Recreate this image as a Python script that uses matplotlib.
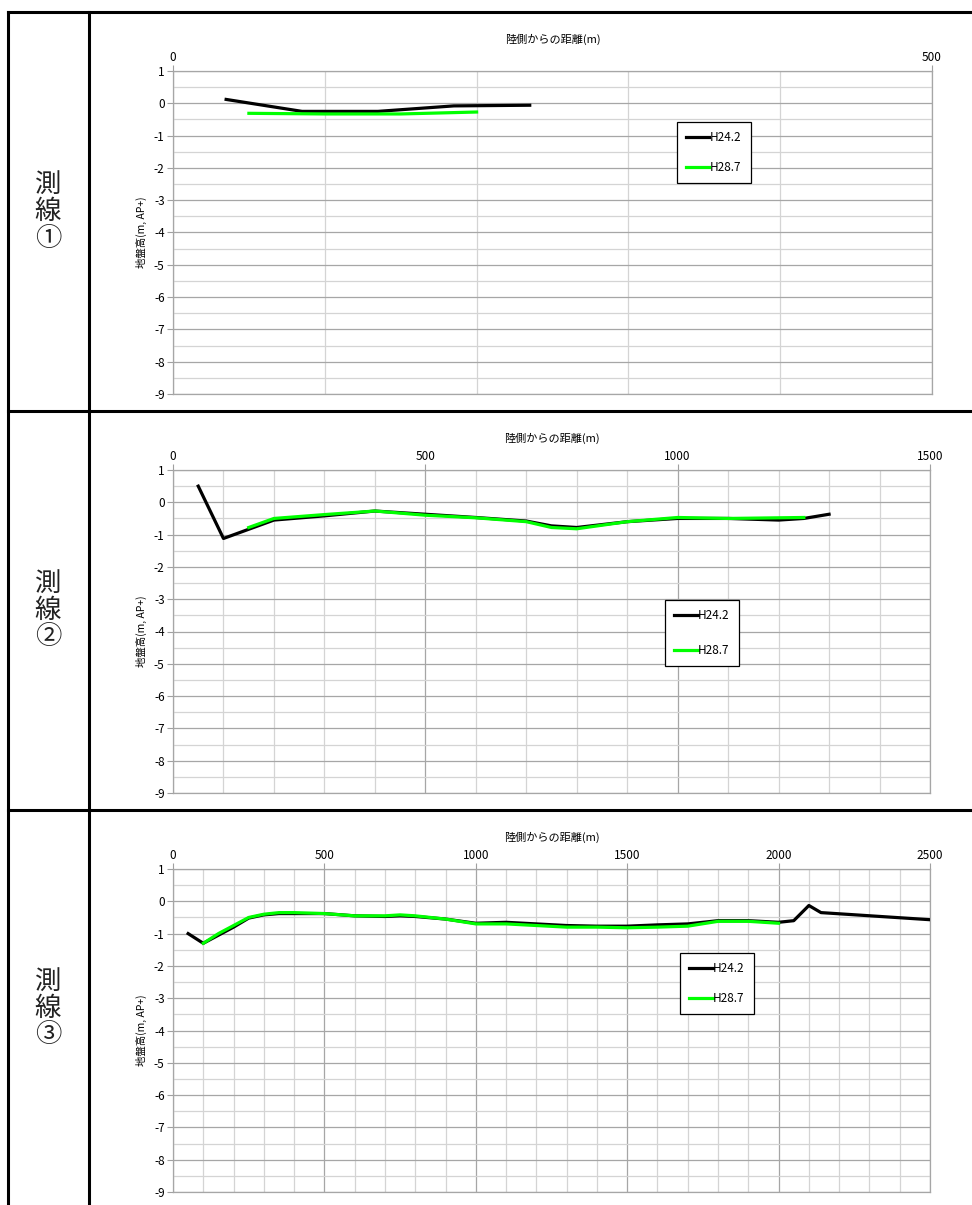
import matplotlib
matplotlib.use("Agg")
import matplotlib.pyplot as plt
from matplotlib.lines import Line2D
from matplotlib.ticker import MultipleLocator

plt.rcParams['font.family'] = ['Noto Sans CJK JP', 'DejaVu Sans']
plt.rcParams['axes.unicode_minus'] = False

W, H = 972, 1205

# 測線①
l1_h24_x = [35, 85, 135, 185, 235]
l1_h24_y = [0.12, -0.25, -0.25, -0.08, -0.06]
l1_h28_x = [50, 100, 150, 200]
l1_h28_y = [-0.31, -0.33, -0.33, -0.27]

# 測線②
l2_h24_x = [50, 100, 200, 300, 400, 500, 600, 700, 750, 800, 900, 1000, 1100, 1200, 1250, 1300]
l2_h24_y = [0.5, -1.12, -0.55, -0.42, -0.27, -0.37, -0.47, -0.58, -0.73, -0.78, -0.6, -0.5, -0.5, -0.55, -0.5, -0.37]
l2_h28_x = [150, 200, 300, 400, 500, 600, 700, 750, 800, 900, 1000, 1100, 1200, 1250]
l2_h28_y = [-0.78, -0.5, -0.38, -0.27, -0.4, -0.48, -0.6, -0.78, -0.82, -0.6, -0.47, -0.5, -0.48, -0.47]

# 測線③
l3_h24_x = [50, 100, 150, 200, 250, 300, 350, 400, 500, 600, 700, 750, 800, 900, 1000, 1100,
            1200, 1300, 1400, 1500, 1600, 1700, 1800, 1900, 2000, 2050, 2100, 2140, 2500]
l3_h24_y = [-1.0, -1.3, -1.05, -0.8, -0.52, -0.42, -0.38, -0.38, -0.38, -0.45, -0.47, -0.45, -0.47,
            -0.55, -0.68, -0.65, -0.7, -0.75, -0.77, -0.77, -0.73, -0.7, -0.6, -0.6, -0.65, -0.6,
            -0.13, -0.35, -0.57]
l3_h28_x = [100, 150, 200, 250, 300, 350, 400, 500, 600, 700, 750, 800, 900, 1000, 1100, 1200,
            1300, 1400, 1500, 1600, 1700, 1800, 1900, 2000]
l3_h28_y = [-1.3, -1.0, -0.75, -0.5, -0.4, -0.35, -0.35, -0.38, -0.45, -0.45, -0.42, -0.45, -0.55,
            -0.7, -0.7, -0.75, -0.8, -0.8, -0.82, -0.8, -0.77, -0.62, -0.62, -0.68]

xmax_list = [500, 1500, 2500]
row_labels = ["測\n線\n①", "測\n線\n②", "測\n線\n③"]
series_names = ["H24.2", "H28.7"]
xlabel = "陸側からの距離(m)"
ylabel = "地盤高(m, AP+)"


def px_axes(fig, l, r, t, b):
    return fig.add_axes([l / W, 1 - b / H, (r - l) / W, (b - t) / H])


fig = plt.figure(figsize=(W / 100, H / 100), dpi=100)

# 表の罫線
for yy in [12, 411, 810]:
    fig.add_artist(Line2D([8 / W, 1.0], [1 - yy / H, 1 - yy / H], color='black', lw=2.2))
for xx in [8, 89]:
    fig.add_artist(Line2D([xx / W, xx / W], [1 - 12 / H, 0.0], color='black', lw=2.2))

boxes = [(173, 932, 71, 394), (173, 930, 470, 793), (173, 930, 869, 1192)]
label_y = [211, 610, 1008]
legend_pos = [(0.664, 0.842), (0.65, 0.598), (0.67, 0.74)]
legend_sp = [1.45, 1.9, 1.45]
data = [
    (l1_h24_x, l1_h24_y, l1_h28_x, l1_h28_y),
    (l2_h24_x, l2_h24_y, l2_h28_x, l2_h28_y),
    (l3_h24_x, l3_h24_y, l3_h28_x, l3_h28_y),
]

for i in range(3):
    l, r, t, b = boxes[i]
    ax = px_axes(fig, l, r, t, b)
    x24, y24, x28, y28 = data[i]
    ax.plot(x24, y24, color='black', lw=2.3, label=series_names[0], zorder=3)
    ax.plot(x28, y28, color='#00ff00', lw=2.3, label=series_names[1], zorder=4)

    ax.set_xlim(0, xmax_list[i])
    ax.set_ylim(-9, 1)
    ax.xaxis.set_major_locator(MultipleLocator(500))
    ax.xaxis.set_minor_locator(MultipleLocator(100))
    ax.yaxis.set_major_locator(MultipleLocator(1))
    ax.yaxis.set_minor_locator(MultipleLocator(0.5))
    ax.grid(which='major', color='#a6a6a6', lw=0.9)
    ax.grid(which='minor', color='#d4d4d4', lw=0.9)
    ax.set_axisbelow(True)

    ax.xaxis.tick_top()
    ax.xaxis.set_label_position('top')
    ax.tick_params(axis='both', which='major', direction='out', length=4, width=0.8,
                   color='#a0a0a0', labelsize=8.5, pad=2)
    ax.tick_params(axis='both', which='minor', length=0)
    ax.tick_params(axis='x', which='major', pad=1)
    for s in ax.spines.values():
        s.set_color('#a6a6a6')
        s.set_linewidth(0.9)

    ax.set_xlabel(xlabel, fontsize=8, labelpad=6)
    ax.set_ylabel(ylabel, fontsize=7.5, labelpad=5)

    leg = ax.legend(loc='upper left', bbox_to_anchor=legend_pos[i], borderaxespad=0,
                    fontsize=8.5, fancybox=False, framealpha=1, edgecolor='black',
                    handlelength=2.0, handletextpad=0.05, labelspacing=legend_sp[i],
                    borderpad=0.75)
    leg.get_frame().set_linewidth(0.9)

    fig.text(48 / W, 1 - label_y[i] / H, row_labels[i], fontsize=19, ha='center',
             va='center', linespacing=1.0, color='#222222')

fig.savefig("out.png", dpi=100)
